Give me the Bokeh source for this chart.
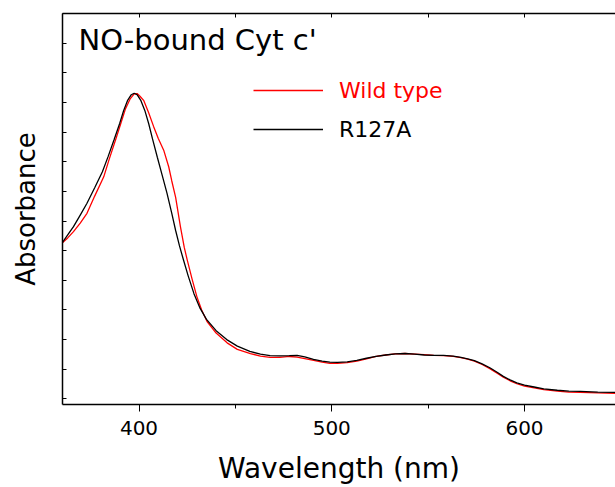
import numpy as np
from bokeh.plotting import figure
from bokeh.models import LinearAxis, FixedTicker, Range1d, Legend, LegendItem, Label
from bokeh.embed import file_html
from bokeh.resources import INLINE

# R127A (black)
wl_r127a = [360, 363, 366, 369.5, 373, 377, 381, 384, 387, 390, 392, 394, 396, 397.5, 399,
            401, 403, 405, 407, 409.5, 412, 414.5, 417, 419, 421, 423, 425.5, 428.5, 431.5,
            435, 440, 445.5, 451, 457.5, 463, 468, 473, 478, 482, 486, 490.5, 495, 499, 503,
            508, 513, 518, 523, 528, 533, 538, 543, 548, 553, 558, 563, 567, 570.5, 574, 578,
            582, 586, 589, 592.5, 596, 600, 605, 610, 617, 623, 629, 638, 647]
abs_r127a = [0.525, 0.553, 0.581, 0.620, 0.660, 0.712, 0.766, 0.818, 0.873, 0.930, 0.972,
             1.006, 1.026, 1.031, 1.026, 1.006, 0.973, 0.929, 0.877, 0.815, 0.755, 0.694,
             0.626, 0.568, 0.516, 0.470, 0.415, 0.355, 0.308, 0.268, 0.230, 0.200, 0.178,
             0.160, 0.151, 0.146, 0.145, 0.146, 0.147, 0.142, 0.133, 0.127, 0.124, 0.123,
             0.125, 0.130, 0.137, 0.143, 0.148, 0.152, 0.153, 0.151, 0.148, 0.147, 0.147,
             0.144, 0.140, 0.135, 0.129, 0.118, 0.105, 0.089, 0.076, 0.064, 0.054, 0.046,
             0.040, 0.034, 0.029, 0.026, 0.025, 0.023, 0.022]

# Wild type (red)
wl_wt = [360, 363, 366, 369.5, 373, 377, 381.7, 384.5, 387.8, 390.5, 393, 395.5, 397.5, 399,
         400.5, 402.5, 405, 407.5, 410, 412.8, 415.4, 417, 419, 421.5, 423.5, 425, 427.5, 430,
         432.5, 435.3, 440, 445.7, 451, 457.8, 463, 468, 473, 478, 482, 486, 490.6, 495, 499,
         503, 508, 513, 518, 523, 528, 533, 538, 543, 548, 553, 558, 563, 567, 570.5, 574,
         578, 582, 586, 589, 592.5, 596, 600, 605, 610, 617, 623, 629, 638, 647]
abs_wt = [0.525, 0.543, 0.564, 0.593, 0.626, 0.684, 0.749, 0.808, 0.873, 0.928, 0.979,
          1.013, 1.029, 1.030, 1.021, 1.006, 0.965, 0.920, 0.878, 0.839, 0.783, 0.735,
          0.680, 0.580, 0.510, 0.469, 0.405, 0.345, 0.300, 0.261, 0.222, 0.189, 0.167,
          0.153, 0.144, 0.140, 0.140, 0.143, 0.141, 0.136, 0.130, 0.124, 0.120, 0.120,
          0.122, 0.127, 0.135, 0.143, 0.148, 0.152, 0.153, 0.151, 0.149, 0.147, 0.146,
          0.143, 0.139, 0.134, 0.127, 0.116, 0.102, 0.086, 0.073, 0.061, 0.051, 0.043,
          0.037, 0.031, 0.026, 0.023, 0.022, 0.020, 0.019]

x_major_ticks = [400, 500, 600]
x_minor_ticks = [450, 550, 650]
y_ticks = [0.0, 0.1, 0.2, 0.3, 0.4, 0.5, 0.6, 0.7, 0.8, 0.9, 1.0, 1.1, 1.2, 1.3]

FONT = "DejaVu Sans"

p = figure(width=615, height=487, output_backend="svg", toolbar_location=None,
           x_range=Range1d(360.3, 647.2), y_range=Range1d(-0.019, 1.3),
           x_axis_location=None, y_axis_location=None,
           min_border_left=62, min_border_right=0, min_border_top=13, min_border_bottom=82)
p.outline_line_color = None
p.grid.visible = False
p.background_fill_color = "white"
p.border_fill_color = "white"

r_wt = p.line(wl_wt, abs_wt, line_color="#ff0000", line_width=1.3)
r_mut = p.line(wl_r127a, abs_r127a, line_color="black", line_width=1.3)

# bottom axis
xb = LinearAxis(ticker=FixedTicker(ticks=x_major_ticks, minor_ticks=x_minor_ticks),
                axis_label="Wavelength (nm)")
xb.major_tick_in = 0
xb.major_tick_out = 7
xb.minor_tick_in = 0
xb.minor_tick_out = 4
xb.axis_line_width = 1.5
xb.major_label_text_font = FONT
xb.major_label_text_font_size = "20px"
xb.major_label_text_color = "black"
xb.major_label_standoff = 9
xb.axis_label_text_font = FONT
xb.axis_label_text_font_size = "28px"
xb.axis_label_text_font_style = "normal"
xb.axis_label_text_color = "black"
xb.axis_label_standoff = 14
p.add_layout(xb, "below")

# top axis (ticks only)
top_ticks = sorted(x_major_ticks + x_minor_ticks)
xt = LinearAxis(ticker=FixedTicker(ticks=top_ticks, minor_ticks=[]))
xt.major_tick_in = 4
xt.major_tick_out = 0
xt.minor_tick_in = 0
xt.minor_tick_out = 0
xt.axis_line_width = 1.5
xt.major_label_overrides = {t: "" for t in top_ticks}
xt.major_label_text_font_size = "8px"
xt.major_label_standoff = 0
p.add_layout(xt, "above")

# left axis (ticks only, with title)
yl = LinearAxis(ticker=FixedTicker(ticks=y_ticks, minor_ticks=[]), axis_label="Absorbance")
yl.major_tick_in = 4
yl.major_tick_out = 0
yl.minor_tick_in = 0
yl.minor_tick_out = 0
yl.axis_line_width = 1.5
yl.major_label_overrides = {t: "" for t in y_ticks}
yl.major_label_text_font_size = "8px"
yl.major_label_standoff = 0
yl.axis_label_text_font = FONT
yl.axis_label_text_font_size = "26px"
yl.axis_label_text_font_style = "normal"
yl.axis_label_text_color = "black"
yl.axis_label_standoff = 22
p.add_layout(yl, "left")

# panel title
p.add_layout(Label(x=16, y=364.5, x_units="screen", y_units="screen", text="NO-bound Cyt c'",
                   text_align="left", text_baseline="middle",
                   text_font=FONT, text_font_size="29px", text_color="black"))

def make_legend(label, renderer, color, loc):
    lg = Legend(items=[LegendItem(label=label, renderers=[renderer])], location=loc,
                glyph_width=70, glyph_height=30, label_height=30, label_standoff=16,
                padding=0, margin=0, spacing=0, border_line_color=None,
                background_fill_alpha=0, label_text_font=FONT, label_text_font_size="22px",
                label_text_color=color)
    p.add_layout(lg, "center")

make_legend("Wild type", r_wt, "#ff0000", (191, 299))
make_legend("R127A", r_mut, "black", (191, 260))

open("out.html", "w").write(file_html(p, INLINE))
